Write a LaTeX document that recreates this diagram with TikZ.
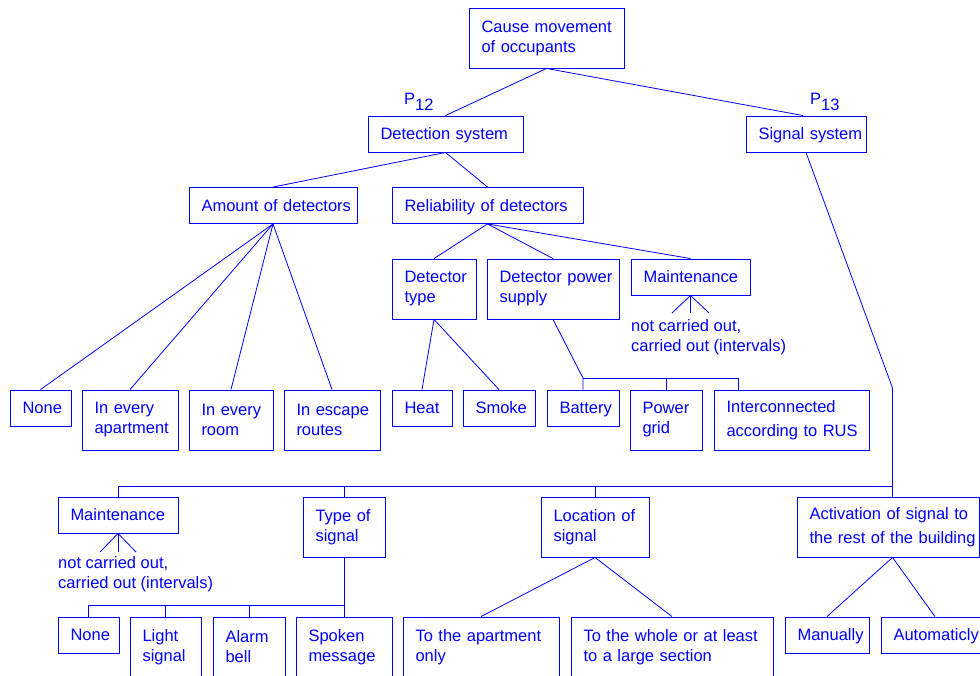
\documentclass[tikz,border=0pt]{standalone}
\usepackage{fontspec}
\setmainfont{Liberation Sans}
\definecolor{dblue}{RGB}{0,0,255}
\newcommand{\txl}[1]{\mbox{#1}}
\begin{document}
\begin{tikzpicture}[x=1pt,y=-1pt,
  every node/.style={font=\fontsize{16.5}{20}\selectfont, text=dblue},
  box/.style 2 args={draw=dblue, line width=0.9pt, inner xsep=12.5pt, inner ysep=0pt,
     text width=#1pt-25pt, minimum height=#2pt, align=left},
  sl/.style={text depth=0pt},
  wide/.style={font=\fontsize{16.5}{24.5}\selectfont},
  conn/.style={draw=dblue, line width=0.8pt},
  note/.style={anchor=north west, inner sep=0pt, align=left}]
\useasboundingbox (0,0) rectangle (980,675);
\clip (0,0) rectangle (980,675);

% top
\node[box={155}{60}] (cause) at (546.5,38) {\txl{Cause movement}\\\txl{of occupants}};
\node[box={155}{36}, sl] (det) at (445.5,134) {\txl{Detection system}};
\node[box={120}{36}, sl] (sig) at (806,134) {\txl{Signal system}};
\node[anchor=base west, inner sep=0pt] (p12) at (404,104) {P\raisebox{-6pt}{12}};
\node[anchor=base west, inner sep=0pt] (p13) at (810,104) {P\raisebox{-6pt}{13}};

% second level
\node[box={168}{36}, sl] (amt) at (273,205.5) {\txl{Amount of detectors}};
\node[box={191}{36}, sl] (rel) at (487.5,205.5) {\txl{Reliability of detectors}};

% amount children
\node[box={61}{36}, sl] (none1) at (40.5,408) {\txl{None}};
\node[box={96}{60}] (apt) at (130,420) {\txl{In every}\\\txl{apartment}};
\node[box={84}{60}] (room) at (231,420) {\txl{In every}\\\txl{room}};
\node[box={96}{60}] (esc) at (332,420) {\txl{In escape}\\\txl{routes}};

% reliability children
\node[box={84}{60}] (dtype) at (434,289) {\txl{Detector}\\\txl{type}};
\node[box={132}{60}] (dpow) at (553,289) {\txl{Detector power}\\\txl{supply}};
\node[box={119}{36}, sl] (maint1) at (690.5,277) {\txl{Maintenance}};
\node[note] (m1note) at (631,319) {not carried out,\\carried out (intervals)};

\node[box={60}{36}, sl] (heat) at (422,408) {\txl{Heat}};
\node[box={72}{36}, sl] (smoke) at (499,408) {\txl{Smoke}};
\node[box={72}{36}, sl] (batt) at (583,408) {\txl{Battery}};
\node[box={72}{60}] (grid) at (666,420) {\txl{Power}\\\txl{grid}};
\node[box={155}{60}, wide] (inter) at (791.5,420) {\txl{Interconnected}\\\txl{according to RUS}};

% bottom level
\node[box={120}{36}, sl] (maint2) at (118,515) {\txl{Maintenance}};
\node[note] (m2note) at (58,556) {not carried out,\\carried out (intervals)};
\node[box={82}{60}] (tsig) at (344,527) {\txl{Type of}\\\txl{signal}};
\node[box={108}{60}] (loc) at (595,527) {\txl{Location of}\\\txl{signal}};
\node[box={182}{60}, wide] (act) at (888,527) {\txl{Activation of signal to}\\\txl{the rest of the building}};

\node[box={61}{36}, sl] (none2) at (88.5,635) {\txl{None}};
\node[box={71}{60}] (light) at (165.5,647) {\txl{Light}\\\txl{signal}};
\node[box={72}{60}] (alarm) at (249,647) {\txl{Alarm}\\\txl{bell}};
\node[box={96}{60}] (spoken) at (344,647) {\txl{Spoken}\\\txl{message}};
\node[box={156}{60}] (toapt) at (481,647) {\txl{To the apartment}\\\txl{only}};
\node[box={202}{60}] (towhole) at (672,647) {\txl{To the whole or at least}\\\txl{to a large section}};
\node[box={84}{36}, sl] (man) at (827,635) {\txl{Manually}};
\node[box={108}{36}, sl] (auto) at (935,635) {\txl{Automaticly}};

% coordinates
\coordinate (sbend) at (892.5,388);
\coordinate (bbus) at (0,486);
\coordinate (pbus) at (583,378);
\coordinate (ibus) at (738,378);
\coordinate (tbus) at (0,605);
\coordinate (m1l) at (672,313);
\coordinate (m1c) at (690.5,313);
\coordinate (m1r) at (709,313);
\coordinate (m2l) at (100,552);
\coordinate (m2c) at (118,552);
\coordinate (m2r) at (136,552);

% connectors
\draw[conn] (cause.south) -- (det.north);
\draw[conn] (cause.south) -- ([xshift=-3pt]sig.north);
\draw[conn] (det.south) -- (amt.north);
\draw[conn] (det.south) -- (rel.north);
\foreach \n in {none1,apt,room,esc} \draw[conn] (amt.south) -- (\n.north);
\foreach \n in {dtype,dpow,maint1} \draw[conn] (rel.south) -- (\n.north);
\foreach \n in {m1l,m1c,m1r} \draw[conn] (maint1.south) -- (\n);
\draw[conn] (dtype.south) -- (heat.north);
\draw[conn] (dtype.south) -- (smoke.north);
\draw[conn] (dpow.south) -- (pbus) -- (batt.north);
\draw[conn] (pbus) -- (ibus) -- (ibus |- inter.north);
\draw[conn] (grid.north) -- (grid.north |- pbus);

\draw[conn] (sig.south) -- (sbend) -- (sbend |- act.north);
\draw[conn] (maint2.north) -- (maint2.north |- bbus) -- (sbend |- bbus);
\draw[conn] (tsig.north) -- (tsig.north |- bbus);
\draw[conn] (loc.north) -- (loc.north |- bbus);
\foreach \n in {m2l,m2c,m2r} \draw[conn] (maint2.south) -- (\n);

\draw[conn] (tsig.south) -- (tsig.south |- tbus) -- (none2.north |- tbus) -- (none2.north);
\foreach \n in {light,alarm,spoken} \draw[conn] (\n.north) -- (\n.north |- tbus);
\draw[conn] (loc.south) -- (toapt.north);
\draw[conn] (loc.south) -- (towhole.north);
\draw[conn] (sbend |- act.south) -- (man.north);
\draw[conn] (sbend |- act.south) -- (auto.north);
\end{tikzpicture}
\end{document}
